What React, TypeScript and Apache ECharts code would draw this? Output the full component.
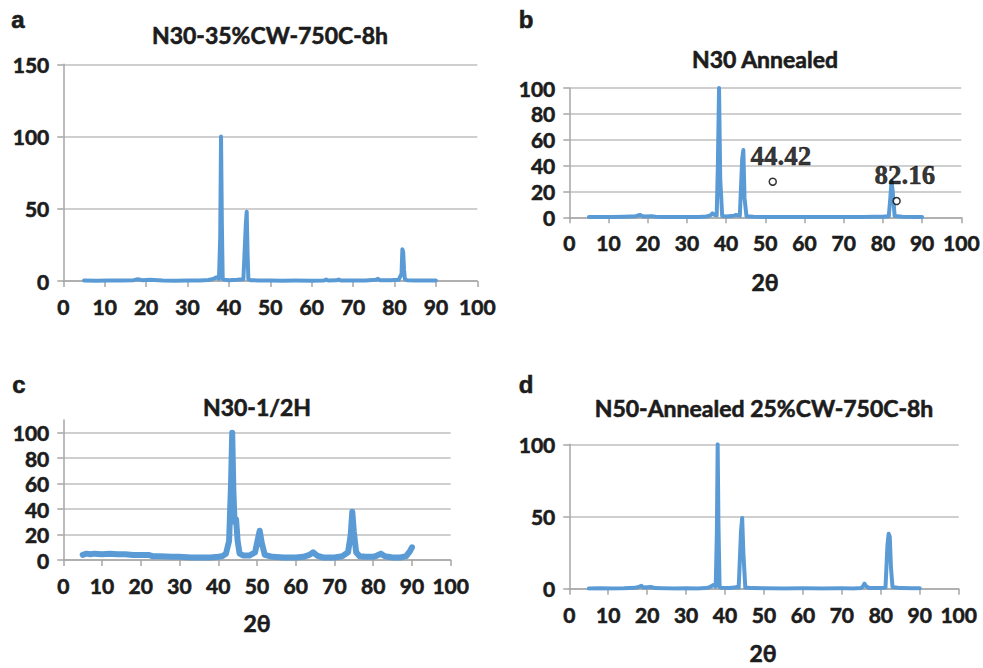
import React, { useEffect, useRef } from "react";
import * as echarts from "echarts";

// 2θ / intensity pairs
const panelA: number[][] = [
  [5, 0.3], [8, 0.2], [11, 0.4], [14, 0.3], [17, 0.6], [18, 1.2], [19, 0.6], [21, 0.8], [24, 0.3], [27, 0.2],
  [30, 0.4], [33, 0.3], [35, 0.7], [36, 1.2], [37, 2.5], [37.6, 1.5], [37.9, 30], [38.1, 100], [38.3, 40], [38.5, 1.5],
  [39, 0.8], [40, 0.5], [42, 0.8], [43.5, 1.2], [44.1, 40], [44.3, 48], [44.5, 20], [44.7, 1.2], [45.2, 0.6], [47, 0.4],
  [50, 0.3], [53, 0.2], [56, 0.3], [60, 0.2], [63, 0.4], [63.5, 1.0], [64, 0.3], [66, 0.5], [66.5, 1.0], [67, 0.4],
  [70, 0.3], [73, 0.4], [75.5, 0.8], [76, 1.5], [76.5, 0.6], [79, 0.5], [81, 0.8], [81.7, 5], [81.9, 22], [82.1, 20],
  [82.3, 8], [82.5, 1.2], [83, 0.6], [85, 0.4], [88, 0.3], [90, 0.3],
];

const panelB: number[][] = [
  [5, 0.2], [8, 0.3], [11, 0.2], [14, 0.4], [17, 0.8], [18, 1.8], [18.5, 1.2], [19, 0.6], [21, 0.9], [22, 0.5],
  [24, 0.3], [27, 0.2], [30, 0.3], [33, 0.2], [35, 0.6], [36, 1.5], [36.5, 3], [37, 2], [37.6, 1.5], [37.9, 40],
  [38.2, 100], [38.5, 30], [39, 1], [40, 0.6], [42, 1.2], [42.5, 1.8], [43.5, 1.2], [44.1, 45], [44.4, 52], [44.7, 15],
  [45.2, 0.8], [47, 0.4], [50, 0.3], [55, 0.2], [60, 0.3], [65, 0.2], [70, 0.3], [75, 0.2], [78, 0.5], [80, 0.4],
  [81.5, 0.8], [81.9, 15], [82.2, 28], [82.5, 20], [83, 1], [85, 0.4], [88, 0.3], [90, 0.3],
];

const panelC: number[][] = [
  [5, 4], [6, 5], [7, 4.5], [8, 5], [10, 4.5], [12, 5], [14, 4.5], [16, 4.5], [18, 4], [20, 4],
  [22, 4], [23, 3], [25, 3], [28, 2.5], [30, 2.5], [33, 2], [36, 2], [38, 2], [40, 2.5], [41, 3],
  [42, 5], [42.8, 15], [43.3, 60], [43.6, 100], [43.9, 55], [44.2, 30], [44.6, 32], [45, 15], [45.5, 5], [46.5, 3.5],
  [48, 3.5], [49.5, 6], [50.2, 16], [50.7, 23], [51.2, 14], [52, 4], [54, 2.5], [57, 2], [60, 2], [62, 2.5],
  [63.5, 4], [64.5, 6], [65.5, 3.5], [67, 2], [70, 2], [72, 3], [73.5, 6], [74.2, 20], [74.6, 38], [75, 22],
  [75.6, 6], [76.5, 3], [78, 2.5], [80, 2.5], [81, 3.5], [82, 5], [83, 3], [85, 2], [87, 2], [88.5, 3],
  [89.5, 7], [90, 10],
];

const panelD: number[][] = [
  [5, 0.2], [8, 0.3], [11, 0.2], [14, 0.3], [17, 0.6], [18, 1.5], [18.5, 2], [19, 0.8], [21, 1.2], [22, 0.4],
  [24, 0.3], [27, 0.2], [30, 0.3], [33, 0.2], [35, 0.4], [36, 1], [37, 2.5], [37.6, 1.5], [37.9, 40], [38.1, 100],
  [38.3, 45], [38.6, 1.2], [39, 0.6], [41, 0.5], [42.5, 0.8], [43, 1.2], [43.5, 0.8], [44.1, 40], [44.4, 49], [44.7, 25],
  [45.2, 0.8], [47, 0.4], [50, 0.3], [55, 0.2], [60, 0.3], [65, 0.2], [70, 0.3], [73, 0.2], [75, 0.5], [75.5, 2],
  [75.8, 3.5], [76.2, 1.8], [77, 0.5], [80, 0.4], [81.2, 0.8], [81.7, 30], [82, 38], [82.3, 36], [82.6, 15], [83, 1.2],
  [85, 0.4], [88, 0.3], [90, 0.3],
];

// annotated peaks in panel b: [2θ, y-position of marker, label]
const annotationsB: (number | string)[][] = [
  [51.9, 27.5, "44.42"],
  [83.5, 12.6, "82.16"],
];

const panelTitles = ["N30-35%CW-750C-8h", "N30 Annealed", "N30-1/2H", "N50-Annealed 25%CW-750C-8h"];
const panelLetters = ["a", "b", "c", "d"];
const xAxisName = "2θ";

const LINE = "#5b9bd5";
const GRID = "#bfbfbf";
const AXIS = "#a6a6a6";
const TEXT = "#1c1c1c";
const FONT = "Lato";

export default function App() {
  const ref = useRef<HTMLDivElement>(null);

  useEffect(() => {
    if (!ref.current) return;
    const chart = echarts.init(ref.current, null, { renderer: "svg" });

    const grids = [
      { left: 63.3, top: 64.3, width: 414, height: 216.7 },
      { left: 569.3, top: 88, width: 392, height: 129.3 },
      { left: 63.3, top: 420, width: 387.4, height: 140 },
      { left: 569.3, top: 444.3, width: 389.4, height: 144.4 },
    ];

    const yCfg = [
      { max: 150, interval: 50 },
      { max: 100, interval: 20 },
      { max: 110, interval: 20 },
      { max: 100, interval: 50 },
    ];

    const labelStyle = {
      fontFamily: FONT,
      fontWeight: "bold" as const,
      fontSize: 21,
      color: TEXT,
      textBorderColor: TEXT,
      textBorderWidth: 0.6,
    };

    const xAxes = grids.map((_, i) => ({
      type: "value",
      gridIndex: i,
      min: 0,
      max: 100,
      interval: 10,
      axisLine: { show: true, onZero: false, lineStyle: { color: AXIS, width: 1.5 } },
      axisTick: { show: true, length: 6, lineStyle: { color: AXIS, width: 1.5 } },
      axisLabel: { ...labelStyle, margin: 15 },
      splitLine: { show: false },
    }));

    const yAxes = grids.map((_, i) => ({
      type: "value",
      gridIndex: i,
      min: 0,
      max: yCfg[i].max,
      interval: yCfg[i].interval,
      axisLine: { show: true, lineStyle: { color: AXIS, width: 1.5 } },
      axisTick: { show: true, length: 6, lineStyle: { color: AXIS, width: 1.5 } },
      axisLabel: { ...labelStyle, margin: 14, showMaxLabel: i !== 2 },
      splitLine: { show: true, showMaxLine: i !== 2, lineStyle: { color: GRID, width: 1.5 } },
    }));

    const data = [panelA, panelB, panelC, panelD];
    const series: any[] = data.map((d, i) => ({
      type: "line",
      xAxisIndex: i,
      yAxisIndex: i,
      data: d,
      showSymbol: false,
      symbol: "none",
      lineStyle: { color: LINE, width: i === 2 ? 6 : 4, join: "round", cap: "round" },
      z: 3,
    }));

    series.push({
      type: "scatter",
      xAxisIndex: 1,
      yAxisIndex: 1,
      data: annotationsB,
      symbol: "circle",
      symbolSize: 7,
      itemStyle: { color: "#ffffff", borderColor: "#000000", borderWidth: 1.5 },
      label: {
        show: true,
        position: [12.5, -21.5],
        align: "center",
        verticalAlign: "middle",
        formatter: (p: any) => p.value[2],
        fontFamily: "Liberation Serif",
        fontWeight: "bold",
        fontSize: 27,
        color: "#000000",
        textBorderColor: "#000000",
        textBorderWidth: 0.5,
      },
      z: 5,
    });

    const titlePos = [
      [270, 35],
      [765, 59],
      [257, 407],
      [764, 408],
    ];
    const letterPos = [
      [18, 19],
      [526, 19],
      [19, 384],
      [526, 384],
    ];
    const namePos = [
      [765, 282],
      [257, 623],
      [763, 653],
    ];

    const boldText = (text: string, x: number, y: number, size: number, family: string) => ({
      type: "text",
      x,
      y,
      style: {
        text,
        fontFamily: family,
        fontWeight: "bold",
        fontSize: size,
        fill: TEXT,
        stroke: TEXT,
        lineWidth: 0.6,
        textAlign: "center",
        textVerticalAlign: "middle",
      },
    });

    const graphic: any[] = [];
    panelTitles.forEach((t, i) => graphic.push(boldText(t, titlePos[i][0], titlePos[i][1], 23, FONT)));
    panelLetters.forEach((t, i) =>
      graphic.push(boldText(t, letterPos[i][0], letterPos[i][1], 24, "Liberation Sans"))
    );
    namePos.forEach((p) => graphic.push(boldText(xAxisName, p[0], p[1], 23, FONT)));

    chart.setOption({
      animation: false,
      backgroundColor: "#ffffff",
      grid: grids,
      xAxis: xAxes,
      yAxis: yAxes,
      series,
      graphic,
    });

    return () => chart.dispose();
  }, []);

  return <div ref={ref} style={{ position: "absolute", left: 0, top: 0, width: 983, height: 668 }} />;
}
